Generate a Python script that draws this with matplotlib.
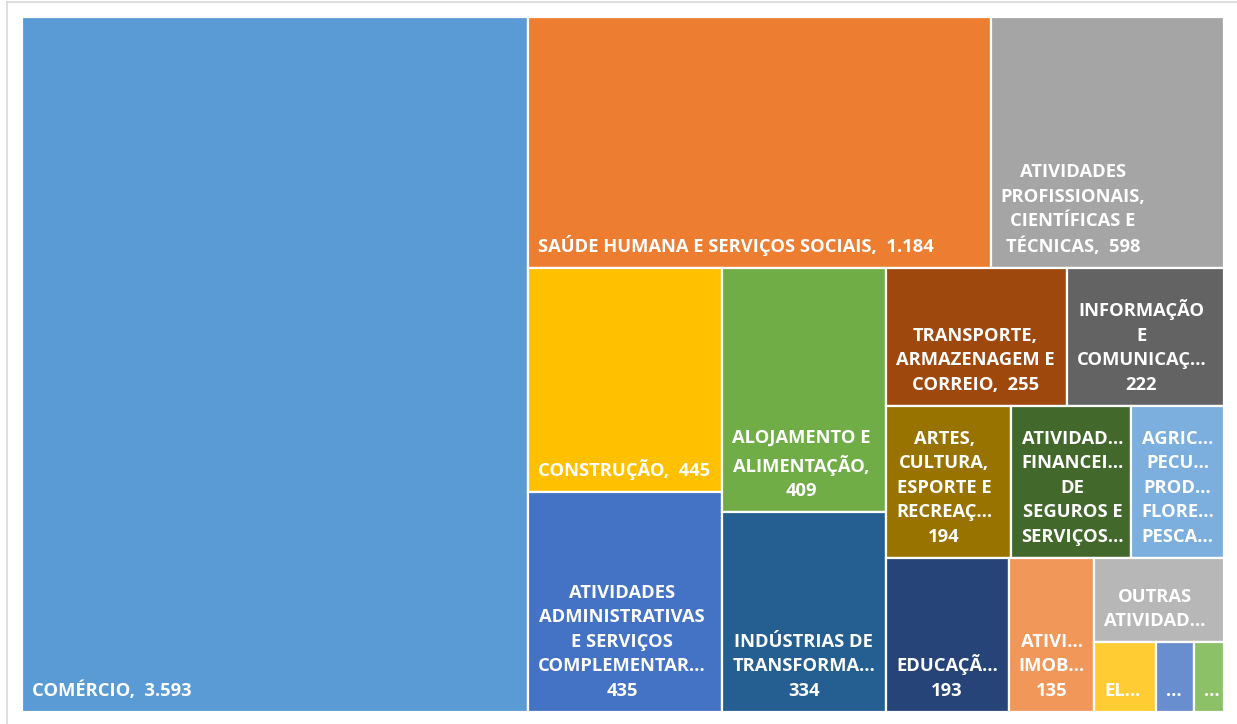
import matplotlib
matplotlib.use("Agg")
import matplotlib.pyplot as plt
from matplotlib.patches import Rectangle
from matplotlib.lines import Line2D

# ---------------- data ----------------
categories = [
    "Comércio",
    "Saúde humana e serviços sociais",
    "Atividades profissionais, científicas e técnicas",
    "Construção",
    "Atividades administrativas e serviços complementares",
    "Alojamento e alimentação",
    "Indústrias de transformação",
    "Transporte, armazenagem e correio",
    "Informação e comunicação",
    "Artes, cultura, esporte e recreação",
    "Atividades financeiras, de seguros e serviços relacionados",
    "Agricultura, pecuária, produção florestal, pesca e aquicultura",
    "Educação",
    "Atividades imobiliárias",
    "Outras atividades de serviços",
    "Eletricidade e gás",
    "Indústrias extrativas",
    "Água, esgoto e gestão de resíduos",
]
values = [3593, 1184, 598, 445, 435, 409, 334, 255, 222, 194, 186, 144,
          193, 135, 112, 44, 27, 21]

# labels as Excel displays them (truncated); {v} = value
display_labels = [
    "COMÉRCIO,  {v}",
    "SAÚDE HUMANA E SERVIÇOS SOCIAIS,  {v}",
    "ATIVIDADES\nPROFISSIONAIS,\nCIENTÍFICAS E\nTÉCNICAS,  {v}",
    "CONSTRUÇÃO,  {v}",
    "ATIVIDADES\nADMINISTRATIVAS\nE SERVIÇOS\nCOMPLEMENTAR…\n{v}",
    "ALOJAMENTO E\nALIMENTAÇÃO,\n{v}",
    "INDÚSTRIAS DE\nTRANSFORMA…\n{v}",
    "TRANSPORTE,\nARMAZENAGEM E\nCORREIO,  {v}",
    "INFORMAÇÃO\nE\nCOMUNICAÇ…\n{v}",
    "ARTES,\nCULTURA,\nESPORTE E\nRECREAÇ…\n{v}",
    "ATIVIDAD…\nFINANCEI…\nDE\nSEGUROS E\nSERVIÇOS…",
    "AGRIC…\nPECU…\nPROD…\nFLORE…\nPESCA…",
    "EDUCAÇÃ…\n{v}",
    "ATIVI…\nIMOB…\n{v}",
    "OUTRAS\nATIVIDAD…",
    "EL…",
    "…",
    "…",
]

colors = ["#5B9BD5", "#ED7D31", "#A5A5A5", "#FFC000", "#4472C4", "#70AD47",
          "#255E91", "#9E480E", "#636363", "#997300", "#43682B", "#7CAFDD",
          "#264478", "#F1975A", "#B7B7B7", "#FFCD33", "#698ED0", "#8CC168"]

# slice-and-dice structure of the Excel treemap ('h' = side by side, 'v' = stacked)
tree = ('h', [0, ('v', [('h', [1, 2]),
                        ('h', [('v', [3, 4]), ('v', [5, 6]),
                               ('v', [('h', [7, 8]), ('h', [9, 10, 11]),
                                      ('h', [12, 13, ('v', [14, ('h', [15, 16, 17])])])])])])])


def fmt(v):
    return f"{v:,}".replace(",", ".")


def total(node):
    if isinstance(node, int):
        return values[node]
    return sum(total(c) for c in node[1])


rects = {}


def layout(node, x0, y0, x1, y1):
    if isinstance(node, int):
        rects[node] = (x0, y0, x1, y1)
        return
    d, children = node
    s = total(node)
    pos = x0 if d == 'h' else y0
    for c in children:
        frac = total(c) / s
        if d == 'h':
            w = (x1 - x0) * frac
            layout(c, pos, y0, pos + w, y1)
            pos += w
        else:
            h = (y1 - y0) * frac
            layout(c, x0, pos, x1, pos + h)
            pos += h


layout(tree, 0.0, 0.0, 1.0, 1.0)

# ---------------- figure ----------------
W, H = 1237, 724
fig = plt.figure(figsize=(W / 100, H / 100), dpi=100)
fig.patch.set_facecolor("white")
ax = fig.add_axes([22 / W, (H - 712) / H, 1202 / W, 695 / H])
ax.set_xlim(0, 1)
ax.set_ylim(1, 0)
ax.axis("off")

# chart border (light gray)
fig.add_artist(Line2D([7 / W, 1.0], [1 - 1.5 / H, 1 - 1.5 / H], color="#D9D9D9", lw=1.2))
fig.add_artist(Line2D([7 / W, 7 / W], [0, 1 - 1.5 / H], color="#D9D9D9", lw=1.2))

for i, (x0, y0, x1, y1) in rects.items():
    ax.add_patch(Rectangle((x0, y0), x1 - x0, y1 - y0, facecolor=colors[i],
                           edgecolor="white", linewidth=1.6))
    txt = display_labels[i].format(v=fmt(values[i]))
    ax.annotate(txt, xy=(x0, y1), xycoords="data",
                xytext=(10, 12), textcoords="offset pixels",
                ha="left", va="bottom", multialignment="center",
                color="white", fontsize=13.2, fontweight="bold",
                family=["Open Sans", "DejaVu Sans"], linespacing=1.47)

fig.savefig("out.png", dpi=100, facecolor="white")
